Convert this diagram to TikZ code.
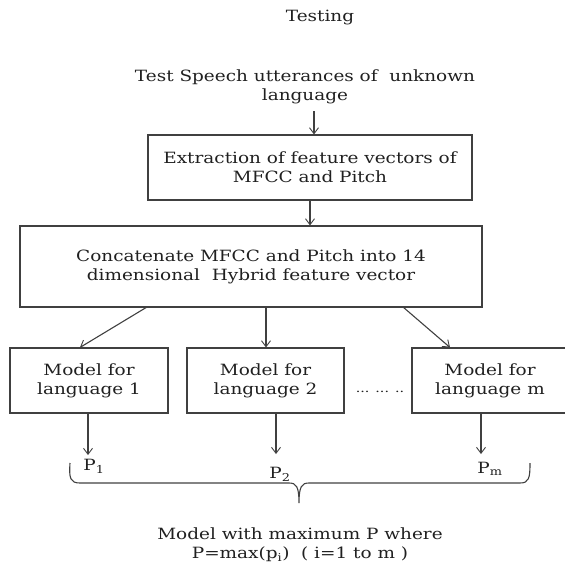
\documentclass[tikz,border=0pt]{standalone}
\usepackage{fontspec}
\setmainfont{DejaVu Serif}[FakeStretch=1.19]
\usetikzlibrary{arrows.meta}
\definecolor{ink}{HTML}{202020}
\definecolor{edge}{HTML}{404040}
\begin{document}
\begin{tikzpicture}[x=1pt,y=-1pt,
  every node/.style={text=ink,font=\fontsize{15.5}{19}\selectfont,align=center,inner sep=0pt},
  boxnode/.style={draw=edge,line width=1.1pt,anchor=center},
  conn/.style={draw=edge,line width=1.1pt,-{Straight Barb[length=6pt,width=9pt,line width=0.9pt]}},
  bracepath/.style={draw=edge,line width=1.1pt}]
\useasboundingbox (0,0) rectangle (565,571);
\node (title) at (320,18) {Testing};
\node (input) at (305,87) {Test Speech utterances of\ \ unknown\\language};
\node[boxnode,minimum width=324pt,minimum height=65pt] (b1) at (310,167.5) {Extraction of feature vectors of\\MFCC and Pitch};
\node[boxnode,minimum width=462pt,minimum height=81pt] (b2) at (251,266.5) {Concatenate MFCC and Pitch into 14\\dimensional\ \ Hybrid feature vector};
\node[boxnode,minimum width=158pt,minimum height=65pt] (m1) at (89,380.5) {Model for\\language 1};
\node[boxnode,minimum width=157pt,minimum height=65pt] (m2) at (265.5,380.5) {Model for\\language 2};
\node[boxnode,minimum width=156pt,minimum height=65pt] (mm) at (490,380.5) {Model for\\language m};
\node[font=\fontsize{12}{14}\selectfont] (dots) at (380,392) {... ... ..};
\node (p1) at (94,466) {P\textsubscript{1}};
\node (p2) at (280,474) {P\textsubscript{2}};
\node (pm) at (490,469) {P\textsubscript{m}};
\node (result) at (300,545) {Model with maximum P where\\P=max(p\textsubscript{i})\ \ ( i=1 to m )};
% connectors
\coordinate (a0) at (314,111);
\draw[conn] (a0) -- (a0 |- b1.north);
\draw[conn] (b1.south) -- (b1.south |- b2.north);
\coordinate (s1) at (147,307);
\coordinate (s2) at (266,307);
\coordinate (s3) at (403,307);
\draw[conn] (s1) -- ([xshift=-9pt]m1.north);
\draw[conn] (s2) -- (s2 |- m2.north);
\draw[conn] (s3) -- ([xshift=-40pt]mm.north);
\coordinate (d1) at (88,455);
\coordinate (d2) at (276,454);
\coordinate (d3) at (481,454);
\draw[conn] (d1 |- m1.south) -- (d1);
\draw[conn] (d2 |- m2.south) -- (d2);
\draw[conn] (d3 |- mm.south) -- (d3);
% brace
\coordinate (bl) at (70,463);
\coordinate (br) at (530,463);
\coordinate (bt) at (299,503);
\draw[bracepath] (bl) .. controls (69,478) and (70,483) .. (80,483)
  -- (289,483) .. controls (296,483) and (299,486) .. (bt)
  .. controls (299,486) and (302,483) .. (309,483)
  -- (520,483) .. controls (529,483) and (530,478) .. (br);
\end{tikzpicture}
\end{document}
